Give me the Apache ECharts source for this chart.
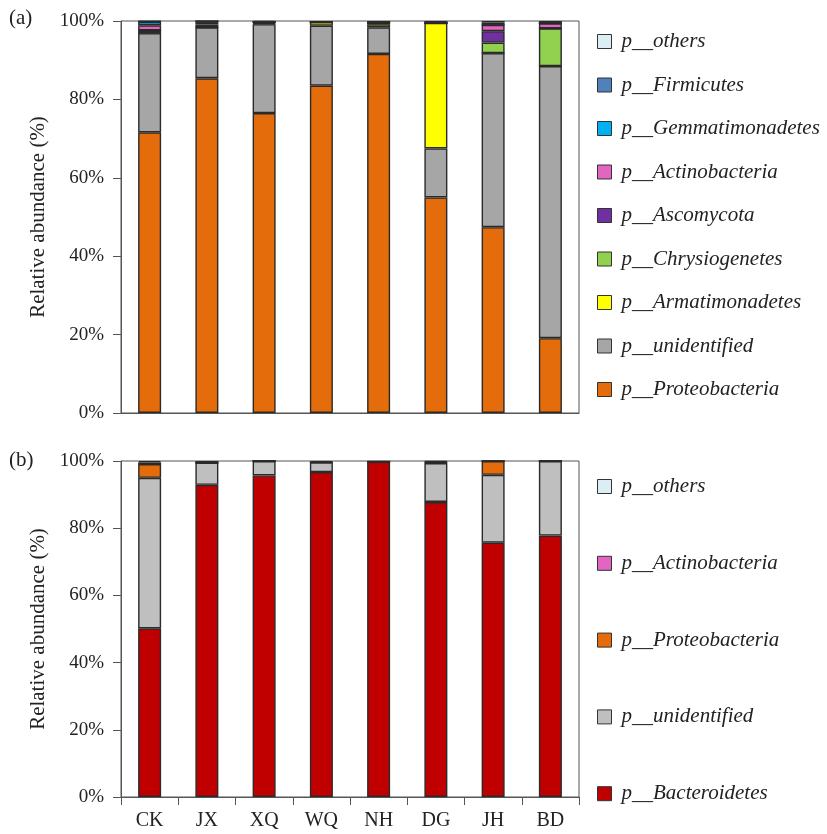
<!DOCTYPE html>
<html>
<head>
<meta charset="utf-8">
<script src="https://cdn.jsdelivr.net/npm/echarts@6/dist/echarts.min.js"></script>
<style>
  html, body { margin: 0; padding: 0; background: #fff; }
  #chart { width: 827px; height: 834px; }
</style>
</head>
<body>
<div id="chart"></div>
<script>
// Sampling sites (shared by both panels)
const sites = ['CK', 'JX', 'XQ', 'WQ', 'NH', 'DG', 'JH', 'BD'];

// Panel (a): relative abundance (%) per phylum, bottom of the stack first
const aProteobacteria    = [71.6, 85.4, 76.5, 83.5, 91.6, 55.0, 47.4, 19.1];
const aUnidentified      = [25.3, 13.0, 22.7, 15.3,  6.8, 12.5, 44.4, 69.4];
const aArmatimonadetes   = [ 0.0,  0.0,  0.2,  0.9,  0.8, 32.0,  0.0,  0.0];
const aChrysiogenetes    = [ 0.7,  0.7,  0.2,  0.0,  0.2,  0.0,  2.7,  9.6];
const aAscomycota        = [ 0.0,  0.4,  0.0,  0.0,  0.0,  0.0,  2.9,  0.0];
const aActinobacteria    = [ 1.3,  0.4,  0.2,  0.0,  0.2,  0.0,  1.6,  1.3];
const aGemmatimonadetes  = [ 0.9,  0.0,  0.0,  0.0,  0.0,  0.0,  0.0,  0.0];
const aFirmicutes        = [ 0.1,  0.0,  0.0,  0.0,  0.0,  0.0,  0.6,  0.0];
const aOthers            = [ 0.1,  0.1,  0.2,  0.3,  0.4,  0.5,  0.4,  0.6];

// Panel (b): relative abundance (%) per phylum, bottom of the stack first
const bBacteroidetes     = [50.2, 92.9, 95.7, 96.7, 99.8, 87.8, 75.7, 77.8];
const bUnidentified      = [44.8,  6.6,  4.3,  2.9,  0.0, 11.6, 20.2, 22.2];
const bProteobacteria    = [ 4.1,  0.0,  0.0,  0.0,  0.0,  0.3,  4.1,  0.0];
const bActinobacteria    = [ 0.5,  0.0,  0.0,  0.0,  0.0,  0.0,  0.0,  0.0];
const bOthers            = [ 0.4,  0.5,  0.0,  0.4,  0.2,  0.3,  0.0,  0.0];

// Tick labels on the value axes
const percentTicks = [0, 20, 40, 60, 80, 100];

const COLORS = {
  others: '#dceef3',
  firmicutes: '#4f81bd',
  gemmatimonadetes: '#00b0f0',
  actinobacteria: '#e265c2',
  ascomycota: '#7030a0',
  chrysiogenetes: '#92d050',
  armatimonadetes: '#ffff00',
  unidentifiedA: '#a6a6a6',
  unidentifiedB: '#bfbfbf',
  proteobacteria: '#e46c0a',
  bacteroidetes: '#c00000'
};

const SERIF = '"Liberation Serif", "Times New Roman", serif';
const TEXT = '#222';
const AXIS = '#555';

function barSeries(name, data, color, panel) {
  return {
    name: name,
    type: 'bar',
    stack: 'panel' + panel,
    xAxisIndex: panel,
    yAxisIndex: panel,
    data: data,
    barWidth: 23,
    itemStyle: { color: color, borderColor: '#2a2a2a', borderWidth: 1.4 },
    emphasis: { disabled: true }
  };
}

const seriesA = [
  ['p__Proteobacteria', aProteobacteria, COLORS.proteobacteria],
  ['p__unidentified', aUnidentified, COLORS.unidentifiedA],
  ['p__Armatimonadetes', aArmatimonadetes, COLORS.armatimonadetes],
  ['p__Chrysiogenetes', aChrysiogenetes, COLORS.chrysiogenetes],
  ['p__Ascomycota', aAscomycota, COLORS.ascomycota],
  ['p__Actinobacteria', aActinobacteria, COLORS.actinobacteria],
  ['p__Gemmatimonadetes', aGemmatimonadetes, COLORS.gemmatimonadetes],
  ['p__Firmicutes', aFirmicutes, COLORS.firmicutes],
  ['p__others', aOthers, COLORS.others]
];
const seriesB = [
  ['p__Bacteroidetes', bBacteroidetes, COLORS.bacteroidetes],
  ['p__unidentified', bUnidentified, COLORS.unidentifiedB],
  ['p__Proteobacteria', bProteobacteria, COLORS.proteobacteria],
  ['p__Actinobacteria', bActinobacteria, COLORS.actinobacteria],
  ['p__others', bOthers, COLORS.others]
];

function legendFor(list, top, gap) {
  return {
    orient: 'vertical',
    left: 592,
    top: top,
    itemGap: gap,
    itemWidth: 14,
    itemHeight: 14,
    icon: 'rect',
    selectedMode: false,
    textStyle: {
      fontFamily: SERIF, fontStyle: 'italic', fontSize: 21,
      color: TEXT, lineHeight: 21, padding: [0, 0, 0, 5]
    },
    data: list.slice().reverse().map(s => ({
      name: s[0],
      itemStyle: { color: s[2], borderColor: '#333', borderWidth: 1 }
    }))
  };
}

function yAxis(grid) {
  return {
    type: 'value',
    gridIndex: grid,
    min: 0, max: 100, interval: 20,
    name: 'Relative abundance (%)',
    nameLocation: 'middle',
    nameGap: 72,
    nameTextStyle: { fontFamily: SERIF, fontSize: 21, color: TEXT },
    axisLine: { show: true, lineStyle: { color: AXIS, width: 1 } },
    axisTick: { show: true, length: 8, lineStyle: { color: AXIS } },
    splitLine: { show: false },
    axisLabel: {
      margin: 17, fontFamily: SERIF, fontSize: 19, color: TEXT,
      formatter: v => percentTicks.includes(v) ? v + '%' : ''
    }
  };
}

function xAxis(grid, withLabels) {
  return {
    type: 'category',
    gridIndex: grid,
    data: sites,
    axisLine: { show: true, lineStyle: { color: AXIS, width: 1 } },
    axisTick: { show: withLabels, length: 8, lineStyle: { color: AXIS } },
    axisLabel: {
      show: withLabels, margin: 14,
      fontFamily: SERIF, fontSize: 20, color: TEXT
    }
  };
}

const chart = echarts.init(document.getElementById('chart'), null, { renderer: 'canvas' });
chart.setOption({
  animation: false,
  backgroundColor: '#fff',
  grid: [
    { left: 121, top: 21, width: 458, height: 392, show: true, borderColor: AXIS, borderWidth: 1 },
    { left: 121, top: 461, width: 458, height: 336, show: true, borderColor: AXIS, borderWidth: 1 }
  ],
  xAxis: [xAxis(0, false), xAxis(1, true)],
  yAxis: [yAxis(0), yAxis(1)],
  legend: [legendFor(seriesA, 26, 22.5), legendFor(seriesB, 471, 55.8)],
  graphic: [
    { type: 'text', left: 9, top: 8, style: { text: '(a)', font: '21px ' + SERIF, fill: TEXT } },
    { type: 'text', left: 9, top: 450, style: { text: '(b)', font: '21px ' + SERIF, fill: TEXT } }
  ],
  series: seriesA.map(s => barSeries(s[0], s[1], s[2], 0))
    .concat(seriesB.map(s => barSeries(s[0], s[1], s[2], 1)))
});
</script>
</body>
</html>
